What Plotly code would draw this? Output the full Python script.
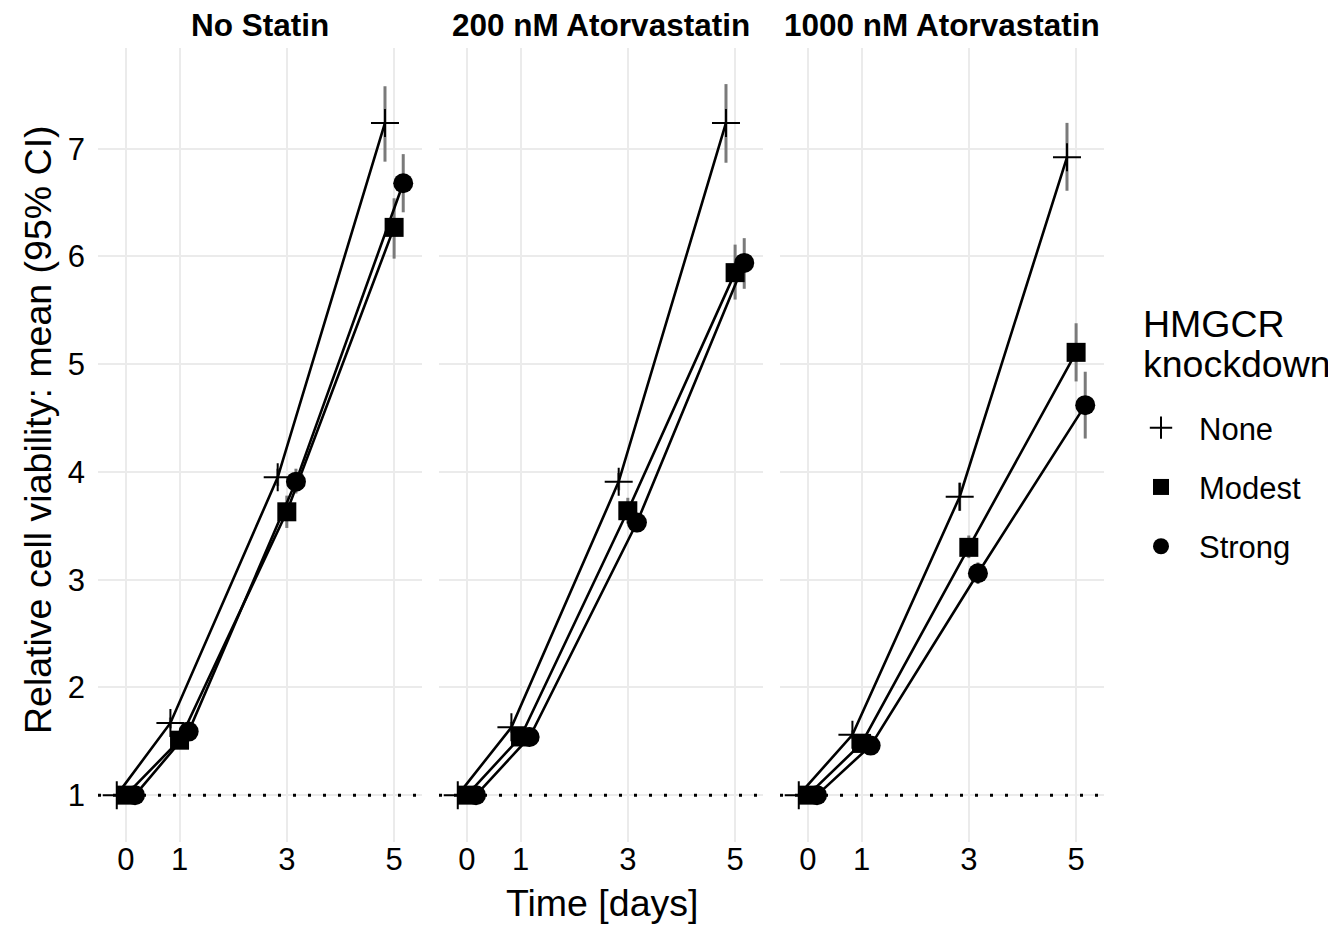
import plotly.graph_objects as go

# ---------------- data ----------------
times = [0, 1, 3, 5]
groups = ["None", "Modest", "Strong"]
panels = ["No Statin", "200 nM Atorvastatin", "1000 nM Atorvastatin"]
x_ticks = [0, 1, 3, 5]
y_ticks = [1, 2, 3, 4, 5, 6, 7]

# mean relative viability
nostatin_none = [1.0, 1.67, 3.95, 7.24]
nostatin_modest = [1.0, 1.51, 3.63, 6.27]
nostatin_strong = [1.0, 1.59, 3.91, 6.68]
ator200_none = [1.0, 1.63, 3.91, 7.24]
ator200_modest = [1.0, 1.54, 3.64, 5.85]
ator200_strong = [1.0, 1.54, 3.53, 5.94]
ator1000_none = [1.0, 1.56, 3.77, 6.92]
ator1000_modest = [1.0, 1.48, 3.30, 5.11]
ator1000_strong = [1.0, 1.46, 3.06, 4.62]

# 95% CI lower / upper
nostatin_none_lo = [1.0, 1.62, 3.87, 6.88]
nostatin_none_hi = [1.0, 1.72, 4.03, 7.58]
nostatin_modest_lo = [1.0, 1.46, 3.48, 5.98]
nostatin_modest_hi = [1.0, 1.56, 3.78, 6.54]
nostatin_strong_lo = [1.0, 1.55, 3.80, 6.41]
nostatin_strong_hi = [1.0, 1.63, 4.03, 6.95]
ator200_none_lo = [1.0, 1.58, 3.83, 6.87]
ator200_none_hi = [1.0, 1.68, 3.99, 7.60]
ator200_modest_lo = [1.0, 1.50, 3.52, 5.60]
ator200_modest_hi = [1.0, 1.58, 3.76, 6.11]
ator200_strong_lo = [1.0, 1.50, 3.44, 5.70]
ator200_strong_hi = [1.0, 1.58, 3.62, 6.17]
ator1000_none_lo = [1.0, 1.52, 3.64, 6.61]
ator1000_none_hi = [1.0, 1.60, 3.90, 7.24]
ator1000_modest_lo = [1.0, 1.44, 3.20, 4.84]
ator1000_modest_hi = [1.0, 1.52, 3.41, 5.38]
ator1000_strong_lo = [1.0, 1.42, 2.96, 4.31]
ator1000_strong_hi = [1.0, 1.50, 3.16, 4.93]

reference_level = 1

means = [
    [nostatin_none, nostatin_modest, nostatin_strong],
    [ator200_none, ator200_modest, ator200_strong],
    [ator1000_none, ator1000_modest, ator1000_strong],
]
lows = [
    [nostatin_none_lo, nostatin_modest_lo, nostatin_strong_lo],
    [ator200_none_lo, ator200_modest_lo, ator200_strong_lo],
    [ator1000_none_lo, ator1000_modest_lo, ator1000_strong_lo],
]
highs = [
    [nostatin_none_hi, nostatin_modest_hi, nostatin_strong_hi],
    [ator200_none_hi, ator200_modest_hi, ator200_strong_hi],
    [ator1000_none_hi, ator1000_modest_hi, ator1000_strong_hi],
]

# ---------------- styling ----------------
dodge = {"None": -0.17, "Modest": 0.0, "Strong": 0.17}
symbols = {"None": "cross-thin-open", "Modest": "square", "Strong": "circle"}
sizes = {"None": 20, "Modest": 19, "Strong": 20}
FONT = "Liberation Sans, Arial, Helvetica, sans-serif"

# the page body adds an 8px offset; target coordinates are shifted by OFF
OFF = 8
W, H = 1336, 926
ML, MR, MT, MB = 98 - OFF, 232 + OFF, 48 - OFF, 84 + OFF
PW = W - ML - MR  # 1006
PH = H - MT - MB  # 794
panel_px = 324
gap_px = 17
domains = []
for i in range(3):
    a = i * (panel_px + gap_px)
    domains.append([a / PW, (a + panel_px) / PW])

yr = [0.565, 7.935]
xr = [-0.52, 5.52]


def px_x(px):
    return (px - OFF - ML) / PW


def px_y(py):
    return (MT + PH - (py - OFF)) / PH


fig = go.Figure()

for p in range(3):
    xa = "x" if p == 0 else f"x{p+1}"
    ya = "y" if p == 0 else f"y{p+1}"
    # reference dotted line at 1
    fig.add_trace(go.Scatter(
        x=xr, y=[reference_level, reference_level], mode="lines",
        line=dict(color="black", width=3, dash="3px,12px"),
        xaxis=xa, yaxis=ya, showlegend=False, hoverinfo="skip"))
    # error bars (beneath)
    for g, grp in enumerate(groups):
        xs = [t + dodge[grp] for t in times]
        m = means[p][g]
        lo = lows[p][g]
        hi = highs[p][g]
        fig.add_trace(go.Scatter(
            x=xs, y=m, mode="markers",
            marker=dict(size=1, opacity=0),
            error_y=dict(type="data", symmetric=False,
                         array=[h - v for h, v in zip(hi, m)],
                         arrayminus=[v - l for v, l in zip(m, lo)],
                         width=0, thickness=3, color="#7a7a7a"),
            xaxis=xa, yaxis=ya, showlegend=False, hoverinfo="skip"))
    for g, grp in enumerate(groups):
        xs = [t + dodge[grp] for t in times]
        fig.add_trace(go.Scatter(
            x=xs, y=means[p][g], mode="lines",
            line=dict(color="black", width=2.6),
            xaxis=xa, yaxis=ya, showlegend=False, hoverinfo="skip"))
    for g, grp in enumerate(groups):
        xs = [t + dodge[grp] for t in times]
        fig.add_trace(go.Scatter(
            x=xs, y=means[p][g], mode="markers", name=grp,
            legendgroup=grp,
            marker=dict(symbol=symbols[grp], size=sizes[grp], color="black",
                        line=dict(color="black", width=2 if grp == "None" else 0)),
            xaxis=xa, yaxis=ya, showlegend=(p == 0)))

axis_common = dict(showline=False, zeroline=False, ticks="",
                   showgrid=True, gridcolor="#ebebeb", gridwidth=2,
                   tickfont=dict(family=FONT, size=31, color="black"))
layout_axes = {}
for p in range(3):
    xk = "xaxis" if p == 0 else f"xaxis{p+1}"
    yk = "yaxis" if p == 0 else f"yaxis{p+1}"
    layout_axes[xk] = dict(axis_common, domain=domains[p], range=xr,
                           tickvals=x_ticks, ticktext=[str(t) for t in x_ticks],
                           ticklabelstandoff=-4,
                           anchor="y" if p == 0 else f"y{p+1}")
    layout_axes[yk] = dict(axis_common, domain=[0, 1], range=yr,
                           tickvals=y_ticks, ticktext=[str(t) for t in y_ticks],
                           showticklabels=(p == 0), ticklabelstandoff=12,
                           anchor="x" if p == 0 else f"x{p+1}")
fig.update_layout(**layout_axes)

annotations = []
for p in range(3):
    annotations.append(dict(
        text=f"<b>{panels[p]}</b>", xref="paper", yref="paper",
        x=(domains[p][0] + domains[p][1]) / 2, y=px_y(25),
        xanchor="center", yanchor="middle", showarrow=False,
        font=dict(family=FONT, size=31.5, color="black")))
annotations.append(dict(
    text="Relative cell viability: mean (95% CI)", xref="paper", yref="paper",
    x=px_x(38), y=px_y(430), textangle=-90,
    xanchor="center", yanchor="middle", showarrow=False,
    font=dict(family=FONT, size=37.5, color="black")))
annotations.append(dict(
    text="Time [days]", xref="paper", yref="paper",
    x=px_x(602), y=px_y(903),
    xanchor="center", yanchor="middle", showarrow=False,
    font=dict(family=FONT, size=37.5, color="black")))
for txt, yc in [("HMGCR", 324), ("knockdown", 364)]:
    annotations.append(dict(
        text=txt, xref="paper", yref="paper",
        x=px_x(1141), y=px_y(yc),
        xanchor="left", yanchor="middle", showarrow=False,
        font=dict(family=FONT, size=37.5, color="black")))

fig.update_layout(
    width=W, height=H,
    margin=dict(l=ML, r=MR, t=MT, b=MB),
    paper_bgcolor="white", plot_bgcolor="white",
    annotations=annotations,
    showlegend=True,
    legend=dict(x=px_x(1123), y=px_y(401),
                xanchor="left", yanchor="top",
                traceorder="grouped", tracegroupgap=16,
                itemsizing="trace", itemwidth=66,
                font=dict(family=FONT, size=31, color="black"),
                bgcolor="rgba(0,0,0,0)", borderwidth=0),
    font=dict(family=FONT, color="black"),
)

fig.write_html("out.html")
